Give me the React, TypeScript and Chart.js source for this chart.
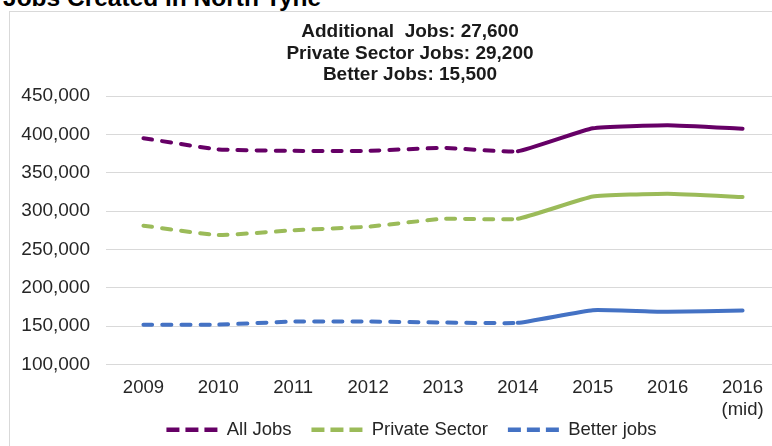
import React, { useEffect, useRef } from "react";
import { Chart, registerables } from "chart.js";

Chart.register(...registerables);

const pageTitle = "Jobs Created in North Tyne";
const summaryLines = [
  "Additional  Jobs: 27,600",
  "Private Sector Jobs: 29,200",
  "Better Jobs: 15,500",
];
const categories: (string | string[])[] = [
  "2009",
  "2010",
  "2011",
  "2012",
  "2013",
  "2014",
  "2015",
  "2016",
  ["2016", "(mid)"],
];
const seriesNames = ["All Jobs", "Private Sector", "Better jobs"];
const allJobs = [395000, 380500, 378600, 378600, 382500, 378000, 408000, 412000, 407500];
const privateSector = [281000, 268800, 275000, 279700, 290000, 290000, 319000, 322800, 318400];
const betterJobs = [152000, 152000, 156000, 156000, 154800, 154300, 170900, 168700, 170500];
const yMin = 100000;
const yMax = 450000;
const yStep = 50000;
const lastEstimatedIndex = 5; // segments before 2014 drawn dashed

const FONT = "'Liberation Sans', Arial, Helvetica, sans-serif";
const colors = ["#660066", "#9BBB59", "#4472C4"];

const boxShiftPlugin = {
  id: "boxShift",
  afterLayout(chart: any) {
    const t = chart.titleBlock;
    if (t) {
      t.left += 9.5;
      t.right += 9.5;
    }
    const l = chart.legend;
    if (l) {
      const h = l.bottom - l.top;
      l.left += 11;
      l.right += 11;
      l.top = 388.5;
      l.bottom = 388.5 + h;
    }
  },
};

export default function App() {
  const ref = useRef<HTMLCanvasElement | null>(null);

  useEffect(() => {
    if (!ref.current) return;
    const seriesData = [allJobs, privateSector, betterJobs];
    const chart = new Chart(ref.current, {
      type: "line",
      data: {
        labels: categories,
        datasets: seriesNames.map((name, i) => ({
          label: name,
          data: seriesData[i],
          borderColor: colors[i],
          backgroundColor: colors[i],
          borderWidth: 4,
          borderCapStyle: "round",
          borderJoinStyle: "round",
          pointRadius: 0,
          pointHoverRadius: 0,
          tension: 0.12,
          fill: false,
          segment: {
            borderDash: (ctx: any) => (ctx.p0DataIndex < lastEstimatedIndex ? [9, 10] : []),
          },
        })),
      },
      options: {
        responsive: false,
        animation: false,
        devicePixelRatio: 1,
        layout: { padding: { left: 11, right: 0, top: 0, bottom: 0 } },
        plugins: {
          title: {
            display: true,
            text: summaryLines,
            color: "#1a1a1a",
            font: { family: FONT, size: 19, weight: "bold", lineHeight: 1.142 },
            padding: { top: 9, bottom: 10 },
          },
          legend: {
            position: "bottom",
            labels: {
              usePointStyle: true,
              pointStyle: "line",
              pointStyleWidth: 51,
              padding: 20,
              color: "#262626",
              font: { family: FONT, size: 18.5, lineHeight: 1 },
              generateLabels: (c: any) =>
                c.data.datasets.map((ds: any, i: number) => ({
                  text: ds.label,
                  fillStyle: ds.borderColor,
                  strokeStyle: ds.borderColor,
                  lineWidth: 4.5,
                  lineDash: [13, 6],
                  lineCap: "butt",
                  pointStyle: "line",
                  datasetIndex: i,
                  hidden: false,
                  fontColor: "#262626",
                })),
            },
          },
          tooltip: { enabled: false },
        },
        scales: {
          x: {
            offset: true,
            grid: { display: false, drawTicks: false },
            border: { display: false },
            ticks: {
              color: "#262626",
              padding: 12,
              maxRotation: 0,
              autoSkip: false,
              font: { family: FONT, size: 18.5, lineHeight: 1.216 },
            },
          },
          y: {
            min: yMin,
            max: yMax,
            grid: { color: "#d9d9d9", lineWidth: 1, drawTicks: false },
            border: { display: false },
            afterFit: (s: any) => {
              s.width = 85;
            },
            ticks: {
              stepSize: yStep,
              color: "#262626",
              padding: 16,
              font: { family: FONT, size: 19 },
              callback: (v: any) => Number(v).toLocaleString("en-US"),
            },
          },
        },
      },
      plugins: [boxShiftPlugin],
    });
    return () => chart.destroy();
  }, []);

  return (
    <div
      style={{
        position: "absolute",
        left: 0,
        top: 0,
        width: 772,
        height: 446,
        overflow: "hidden",
        background: "#ffffff",
        fontFamily: FONT,
      }}
    >
      <div
        style={{
          position: "absolute",
          left: 3,
          top: -14,
          fontSize: 24.5,
          lineHeight: "24px",
          fontWeight: "bold",
          whiteSpace: "nowrap",
          color: "#000",
        }}
      >
        {pageTitle}
      </div>
      <div
        style={{
          position: "absolute",
          left: 9,
          top: 11,
          width: 800,
          height: 500,
          borderLeft: "1px solid #d9d9d9",
          borderTop: "1px solid #d9d9d9",
        }}
      />
      <canvas
        ref={ref}
        width={770}
        height={470}
        style={{ position: "absolute", left: 10, top: 12, width: 770, height: 470 }}
      />
    </div>
  );
}
